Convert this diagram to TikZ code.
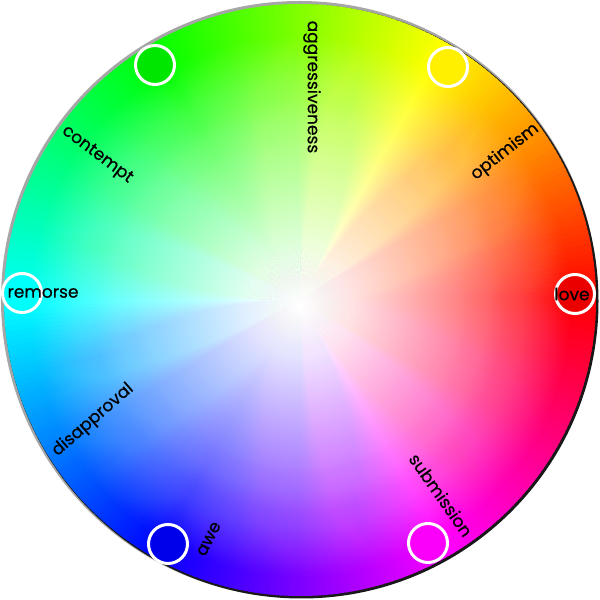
\documentclass[tikz,border=0pt]{standalone}
\usepackage{fontspec}
\setmainfont{Poppins}[FakeBold=0.5]
\definecolor{mgreen}{RGB}{0,230,0}
\definecolor{myellow}{RGB}{255,240,0}
\definecolor{mred}{RGB}{235,0,0}
\definecolor{mcyan}{RGB}{0,255,250}
\definecolor{mblue}{RGB}{0,0,235}
\definecolor{mmagenta}{RGB}{250,0,250}
\tikzset{
  marker/.style={circle, minimum size=39pt, inner sep=0pt, draw=white, line width=3pt},
  lbl/.style={font=\fontsize{17}{20}\selectfont, text=black, inner sep=0pt}
}
\begin{document}
\begin{tikzpicture}[x=1pt,y=1pt]
\useasboundingbox (0,0) rectangle (600,600);
\coordinate (C) at (300,300);
% shadow / rim
\fill[black!35] (299.5,300.5) circle (298.5);
\fill[black!90] (301.5,298.5) circle (297);
% hue wedges
\foreach \a in {0,...,359}{
  \pgfmathsetmacro\hh{\a/360}
  \definecolor{wc}{hsb}{\hh,1,1}
  \fill[wc] (C) -- ++(\a:296) arc[start angle=\a, end angle=\a+1.5, radius=296] -- cycle;
}
% white centre: stacked translucent discs, opacity rising inwards
\foreach \k in {1,...,120}{
  \pgfmathsetmacro\rr{2.25*(121-\k)}
  \pgfmathsetmacro\al{1-((120-\k)/(121-\k))^1.6}
  \fill[white, opacity=\al] (300,294) circle (\rr);
}
% markers
\node[marker, fill=mgreen] (g) at (155,535) {};
\node[marker, fill=myellow] (y) at (448,533) {};
\node[marker, fill=mred] (r) at (575,306) {};
\node[marker, fill=mcyan] (c) at (22,307) {};
\node[marker, fill=mblue] (b) at (168,56) {};
\node[marker, fill=mmagenta] (m) at (428,57) {};
% labels
\node[lbl, rotate=-90] (t1) at (312,513) {aggressiveness};
\node[lbl, rotate=38] (t2) at (505,448) {optimism};
\node[lbl, rotate=-37] (t3) at (97,445) {contempt};
\node[lbl] (t4) at (43,307) {remorse};
\node[lbl] (t5) at (572,306) {love};
\node[lbl, rotate=41] (t6) at (93,180) {disapproval};
\node[lbl, rotate=63] (t7) at (209,61) {awe};
\node[lbl, rotate=-55] (t8) at (441,105) {submission};
\end{tikzpicture}
\end{document}
